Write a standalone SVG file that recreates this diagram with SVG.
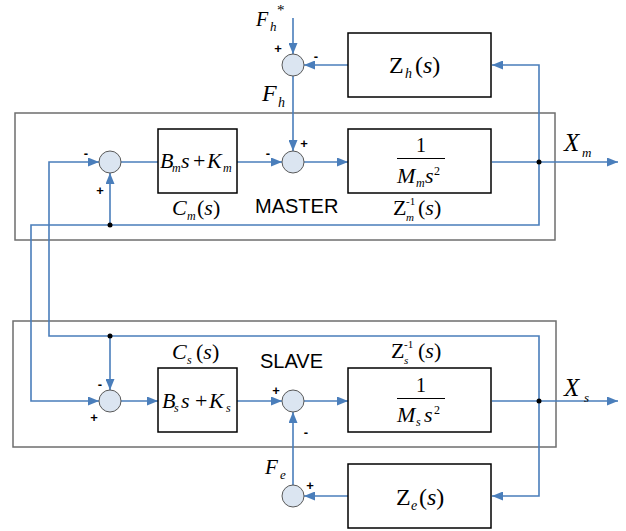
<svg xmlns="http://www.w3.org/2000/svg" width="626" height="531" viewBox="0 0 626 531">
<defs>
<marker id="ar" markerUnits="userSpaceOnUse" markerWidth="11" markerHeight="9" refX="11" refY="4.5" orient="auto">
<path d="M0,0 L11,4.5 L0,9 z" fill="#4a7ebb"/>
</marker>
<style>
.bg{fill:#ffffff}
.frame{fill:none;stroke:#6e6e6e;stroke-width:1.5}
.box{fill:#ffffff;stroke:#000;stroke-width:1.5}
.sum{fill:#dbe5f1;stroke:#595959;stroke-width:1}
.w{fill:none;stroke:#4a7ebb;stroke-width:1.6}
.wa{fill:none;stroke:#4a7ebb;stroke-width:1.6;marker-end:url(#ar)}
.dot{fill:#000}
.m{font-family:"Liberation Serif","Times New Roman",serif;fill:#000}
.i{font-style:italic}
.sg{font-family:"Liberation Sans",Arial,sans-serif;font-weight:bold;font-size:13px;fill:#000;text-anchor:middle;dominant-baseline:central}
.lab{font-family:"Liberation Sans",Arial,sans-serif;font-size:20px;fill:#000}
</style>
</defs>
<rect class="bg" x="0" y="0" width="626" height="531"/>
<rect id="master-frame" class="frame" x="15" y="113" width="540" height="127"/>
<rect id="slave-frame" class="frame" x="13" y="321" width="543" height="126"/>
<text class="lab" x="255" y="213">MASTER</text>
<text class="lab" x="260" y="368">SLAVE</text>

<g id="connectors">
<path class="wa" d="M293,18 V54"/>
<path class="wa" d="M348,65 H304"/>
<path class="wa" d="M539,162 V65 H492"/>
<path class="wa" d="M293,76 V151"/>
<path class="w" d="M121,162 H158"/>
<path class="wa" d="M237,162 H282"/>
<path class="wa" d="M304,162 H348"/>
<path class="wa" d="M492,162 H618"/>
<path class="wa" d="M539,162 V225 H31 V401 H99"/>
<path class="wa" d="M110,225 V173"/>
<path class="wa" d="M539,401 V336 H49 V162 H99"/>
<path class="wa" d="M110,336 V390"/>
<path class="wa" d="M121,401 H158"/>
<path class="wa" d="M237,401 H282"/>
<path class="wa" d="M304,401 H348"/>
<path class="wa" d="M492,401 H618"/>
<path class="wa" d="M539,401 V496 H492"/>
<path class="wa" d="M348,496 H304"/>
<path class="wa" d="M293,485 V412"/>
<circle class="dot" cx="539" cy="162" r="2.5"/>
<circle class="dot" cx="110" cy="225" r="2.5"/>
<circle class="dot" cx="110" cy="336" r="2.5"/>
<circle class="dot" cx="539" cy="401" r="2.5"/>
</g>

<g id="sum-h">
<circle class="sum" cx="293" cy="65" r="11"/>
<text class="sg" x="278" y="48">+</text>
<text class="sg" x="316" y="56">-</text>
</g>
<g id="label-fhstar">
<text class="m" x="256" y="26" font-size="20"><tspan class="i">F</tspan><tspan class="i" font-size="13" x="270" y="31">h</tspan><tspan font-size="15" x="277" y="15">*</tspan></text>
</g>
<g id="label-fh">
<text class="m" x="262" y="101" font-size="24"><tspan class="i">F</tspan><tspan class="i" font-size="14" x="278" y="107">h</tspan></text>
</g>
<g id="zh">
<rect class="box" x="348" y="33" width="143" height="64"/>
<text class="m" font-size="24" y="73"><tspan x="389">Z</tspan><tspan class="i" font-size="14" x="405" y="78">h</tspan><tspan x="415" y="73">(</tspan><tspan class="i">s</tspan><tspan>)</tspan></text>
</g>

<g id="sum1">
<circle class="sum" cx="110" cy="162" r="11"/>
<text class="sg" x="86" y="153">-</text>
<text class="sg" x="100" y="190">+</text>
</g>
<g id="cm">
<rect class="box" x="158" y="129" width="79" height="64"/>
<text class="m" font-size="22" y="168"><tspan class="i" x="160">B</tspan><tspan class="i" font-size="12" x="172" y="172">m</tspan><tspan class="i" x="181" y="168">s</tspan><tspan x="193">+</tspan><tspan class="i" x="207">K</tspan><tspan class="i" font-size="12" x="223" y="172">m</tspan></text>
<text class="m" font-size="22" y="215"><tspan class="i" x="172">C</tspan><tspan class="i" font-size="12" x="187" y="220">m</tspan><tspan x="197" y="215">(</tspan><tspan class="i">s</tspan><tspan>)</tspan></text>
</g>
<g id="sum2">
<circle class="sum" cx="293" cy="162" r="11"/>
<text class="sg" x="268" y="153">-</text>
<text class="sg" x="304" y="143">+</text>
</g>
<g id="zm">
<rect class="box" x="348" y="129" width="143" height="64"/>
<text class="m" font-size="20" x="416" y="152">1</text>
<line x1="397" y1="158.5" x2="445" y2="158.5" stroke="#000" stroke-width="1"/>
<text class="m" font-size="22" y="183"><tspan class="i" x="397">M</tspan><tspan class="i" font-size="12" x="416" y="187">m</tspan><tspan class="i" x="425" y="183">s</tspan><tspan font-size="12" x="434" y="175">2</tspan></text>
<text class="m" font-size="22" y="215"><tspan x="393">Z</tspan><tspan font-size="11" x="406" y="205">-1</tspan><tspan class="i" font-size="11" x="406" y="221">m</tspan><tspan x="418" y="215">(</tspan><tspan class="i">s</tspan><tspan>)</tspan></text>
</g>
<g id="label-xm">
<text class="m" font-size="25" y="151"><tspan class="i" x="564">X</tspan><tspan class="i" font-size="13" x="582" y="157">m</tspan></text>
</g>

<g id="sum3">
<circle class="sum" cx="110" cy="401" r="11"/>
<text class="sg" x="100" y="384">-</text>
<text class="sg" x="94" y="417">+</text>
</g>
<g id="cs">
<rect class="box" x="158" y="368" width="79" height="64"/>
<text class="m" font-size="22" y="408"><tspan class="i" x="162">B</tspan><tspan class="i" font-size="12" x="174" y="412">s</tspan><tspan class="i" x="181" y="408">s</tspan><tspan x="195">+</tspan><tspan class="i" x="209">K</tspan><tspan class="i" font-size="12" x="226" y="412">s</tspan></text>
<text class="m" font-size="22" y="359"><tspan class="i" x="172">C</tspan><tspan class="i" font-size="12" x="187" y="364">s</tspan><tspan x="196" y="359">(</tspan><tspan class="i">s</tspan><tspan>)</tspan></text>
</g>
<g id="sum4">
<circle class="sum" cx="293" cy="401" r="11"/>
<text class="sg" x="276" y="390">+</text>
<text class="sg" x="306" y="432">-</text>
</g>
<g id="zs">
<rect class="box" x="348" y="368" width="143" height="64"/>
<text class="m" font-size="20" x="416" y="392">1</text>
<line x1="397" y1="398.5" x2="445" y2="398.5" stroke="#000" stroke-width="1"/>
<text class="m" font-size="22" y="422"><tspan class="i" x="397">M</tspan><tspan class="i" font-size="12" x="416" y="426">s</tspan><tspan class="i" x="424" y="422">s</tspan><tspan font-size="12" x="434" y="414">2</tspan></text>
<text class="m" font-size="22" y="358"><tspan x="391">Z</tspan><tspan font-size="11" x="404" y="348">-1</tspan><tspan class="i" font-size="11" x="404" y="364">s</tspan><tspan x="418" y="358">(</tspan><tspan class="i">s</tspan><tspan>)</tspan></text>
</g>
<g id="label-xs">
<text class="m" font-size="25" y="396"><tspan class="i" x="564">X</tspan><tspan class="i" font-size="13" x="584" y="402">s</tspan></text>
</g>

<g id="sum-e">
<circle class="sum" cx="293" cy="496" r="11"/>
<text class="sg" x="310" y="485">+</text>
</g>
<g id="label-fe">
<text class="m" font-size="21" y="474"><tspan class="i" x="265">F</tspan><tspan class="i" font-size="13" x="280" y="479">e</tspan></text>
</g>
<g id="ze">
<rect class="box" x="348" y="464" width="143" height="64"/>
<text class="m" font-size="24" y="505"><tspan x="396">Z</tspan><tspan class="i" font-size="14" x="411" y="510">e</tspan><tspan x="419" y="505">(</tspan><tspan class="i">s</tspan><tspan>)</tspan></text>
</g>
</svg>
